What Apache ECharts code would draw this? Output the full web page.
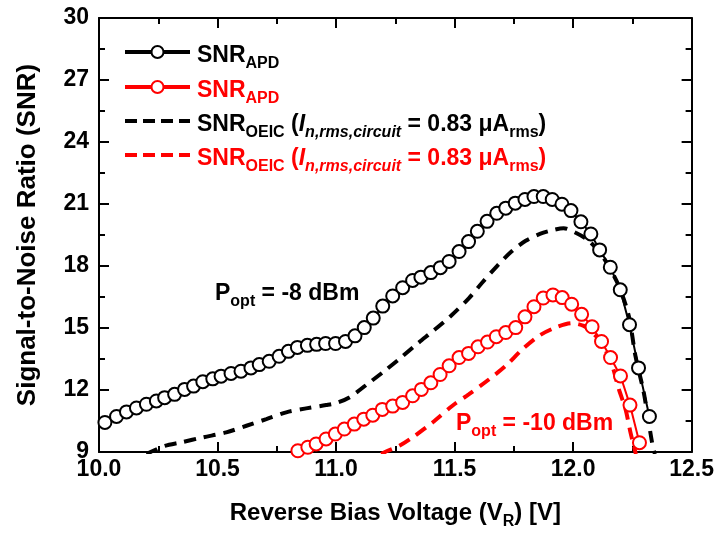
<!DOCTYPE html>
<html>
<head>
<meta charset="utf-8">
<script src="https://cdn.jsdelivr.net/npm/echarts@6/dist/echarts.min.js"></script>
<style>
html, body { margin: 0; padding: 0; background: #fff; }
#main { width: 717px; height: 535px; }
</style>
</head>
<body>
<div id="main"></div>
<script>
// SNR_APD, Popt = -8 dBm (black circles)
var apd8X = [10.025, 10.074, 10.116, 10.158, 10.200, 10.242, 10.277, 10.319, 10.361, 10.399, 10.438, 10.480, 10.515, 10.557, 10.599, 10.641, 10.676, 10.718, 10.760, 10.799, 10.837, 10.879, 10.918, 10.956, 10.998, 11.040, 11.080, 11.119, 11.157, 11.197, 11.239, 11.281, 11.323, 11.358, 11.400, 11.440, 11.477, 11.519, 11.559, 11.596, 11.637, 11.678, 11.716, 11.756, 11.797, 11.835, 11.874, 11.912, 11.953, 11.991, 12.033, 12.075, 12.112, 12.157, 12.199, 12.238, 12.276, 12.322];
var apd8Y = [10.43, 10.72, 10.94, 11.13, 11.31, 11.47, 11.63, 11.79, 12.03, 12.19, 12.40, 12.54, 12.67, 12.80, 12.91, 13.07, 13.23, 13.39, 13.63, 13.87, 14.06, 14.16, 14.21, 14.25, 14.25, 14.35, 14.62, 15.02, 15.48, 16.06, 16.55, 16.95, 17.30, 17.46, 17.68, 17.92, 18.22, 18.70, 19.18, 19.68, 20.16, 20.55, 20.80, 21.04, 21.22, 21.36, 21.36, 21.22, 20.99, 20.68, 20.14, 19.55, 18.78, 17.94, 16.85, 15.16, 13.07, 10.72];

// SNR_APD, Popt = -10 dBm (red circles)
var apd10X = [10.839, 10.881, 10.916, 10.958, 10.997, 11.035, 11.077, 11.117, 11.155, 11.195, 11.239, 11.281, 11.323, 11.360, 11.400, 11.439, 11.477, 11.519, 11.559, 11.599, 11.639, 11.676, 11.716, 11.758, 11.797, 11.835, 11.874, 11.915, 11.954, 11.994, 12.036, 12.080, 12.120, 12.158, 12.200, 12.240, 12.280];
var apd10Y = [9.06, 9.23, 9.39, 9.63, 9.87, 10.11, 10.35, 10.59, 10.78, 11.06, 11.22, 11.40, 11.72, 12.03, 12.35, 12.75, 13.17, 13.57, 13.77, 14.09, 14.32, 14.58, 14.78, 15.02, 15.54, 16.03, 16.45, 16.60, 16.47, 16.15, 15.66, 15.06, 14.35, 13.57, 12.68, 11.27, 9.45];

// SNR_OEIC, Popt = -8 dBm (black dashed)
var oeic8X = [10.20, 10.229, 10.278, 10.348, 10.439, 10.537, 10.622, 10.706, 10.790, 10.874, 10.958, 11.000, 11.056, 11.127, 11.200, 11.274, 11.344, 11.414, 11.484, 11.561, 11.617, 11.681, 11.740, 11.800, 11.860, 11.912, 11.960, 12.011, 12.059, 12.109, 12.151, 12.193, 12.235, 12.263, 12.298, 12.333, 12.345];
var oeic8Y = [8.9, 9.06, 9.30, 9.47, 9.71, 9.95, 10.27, 10.59, 10.92, 11.11, 11.27, 11.37, 11.64, 12.24, 12.88, 13.57, 14.25, 14.90, 15.58, 16.45, 17.20, 18.02, 18.70, 19.22, 19.55, 19.73, 19.83, 19.61, 19.28, 18.72, 17.97, 17.03, 15.58, 13.65, 11.88, 9.47, 8.9];

// SNR_OEIC, Popt = -10 dBm (red dashed)
var oeic10X = [11.19, 11.218, 11.267, 11.323, 11.407, 11.491, 11.561, 11.646, 11.716, 11.786, 11.856, 11.926, 11.996, 12.045, 12.080, 12.120, 12.165, 12.193, 12.221, 12.242, 12.256, 12.265];
var oeic10Y = [8.9, 9.06, 9.30, 9.71, 10.43, 11.24, 11.80, 12.52, 13.17, 13.97, 14.62, 15.02, 15.23, 15.10, 14.78, 14.30, 13.17, 12.04, 11.08, 9.95, 9.30, 8.9];

var FONT = "'Liberation Sans', Arial, sans-serif";

function pairs(xs, ys) {
    return xs.map(function (x, i) { return [x, ys[i]]; });
}

var myChart = echarts.init(document.getElementById('main'));

var tickStyle = { color: '#000', width: 2 };

function xAxisCfg(top) {
    return {
        type: 'value',
        position: top ? 'top' : 'bottom',
        min: 10, max: 12.5, interval: 0.5,
        axisLine: { show: true, onZero: false, lineStyle: tickStyle },
        axisTick: { show: true, inside: true, length: 10, lineStyle: tickStyle },
        minorTick: { show: true, splitNumber: 2, length: 6, lineStyle: tickStyle },
        splitLine: { show: false },
        axisLabel: {
            show: !top, color: '#000', fontSize: 23, fontWeight: 'bold', fontFamily: FONT, margin: 6,
            formatter: function (v) { return v.toFixed(1); }
        },
        name: top ? '' : '{a|Reverse Bias Voltage (V}{s|R}{a|) [V]}',
        nameLocation: 'middle',
        nameGap: 44,
        nameTextStyle: {
            color: '#000', fontWeight: 'bold', fontFamily: FONT,
            rich: {
                a: { fontSize: 24, fontWeight: 'bold', fontFamily: FONT, color: '#000', lineHeight: 34 },
                s: { fontSize: 16, fontWeight: 'bold', fontFamily: FONT, color: '#000', lineHeight: 16, verticalAlign: 'bottom' }
            }
        }
    };
}

function yAxisCfg(right) {
    return {
        type: 'value',
        position: right ? 'right' : 'left',
        min: 9, max: 30, interval: 3,
        axisLine: { show: true, onZero: false, lineStyle: tickStyle },
        axisTick: { show: true, inside: true, length: 10, lineStyle: tickStyle },
        minorTick: { show: true, splitNumber: 2, length: 6, lineStyle: tickStyle },
        splitLine: { show: false },
        axisLabel: { show: !right, color: '#000', fontSize: 23, fontWeight: 'bold', fontFamily: FONT, margin: 10 },
        name: right ? '' : 'Signal-to-Noise Ratio (SNR)',
        nameLocation: 'middle',
        nameGap: 58,
        nameTextStyle: { color: '#000', fontSize: 26, fontWeight: 'bold', fontFamily: FONT }
    };
}

// legend drawn by hand so the dashed samples look like the original
var legendRows = [
    { y: 52, color: '#000', dashed: false, text: '{a|SNR}{s|APD}' },
    { y: 87, color: '#ff0000', dashed: false, text: '{a|SNR}{s|APD}' },
    { y: 121, color: '#000', dashed: true, text: '{a|SNR}{s|OEIC}{a| (}{i|I}{si|n,rms,circuit}{a| = 0.83 μA}{s|rms}{a|)}' },
    { y: 155, color: '#ff0000', dashed: true, text: '{a|SNR}{s|OEIC}{a| (}{i|I}{si|n,rms,circuit}{a| = 0.83 μA}{s|rms}{a|)}' }
];

function richSet() {
    return {
        a: { fontSize: 23, fontWeight: 'bold', fontFamily: FONT, lineHeight: 32 },
        i: { fontSize: 23, fontWeight: 'bold', fontStyle: 'italic', fontFamily: FONT, lineHeight: 32 },
        s: { fontSize: 16, fontWeight: 'bold', fontFamily: FONT, lineHeight: 15, verticalAlign: 'bottom' },
        si: { fontSize: 16, fontWeight: 'bold', fontStyle: 'italic', fontFamily: FONT, lineHeight: 15, verticalAlign: 'bottom' }
    };
}

var graphics = [];
legendRows.forEach(function (r) {
    graphics.push({
        type: 'line', z: 10,
        shape: { x1: 125, y1: r.y, x2: 190, y2: r.y },
        style: { stroke: r.color, lineWidth: 4, lineDash: r.dashed ? [12, 6] : null }
    });
    if (!r.dashed) {
        graphics.push({
            type: 'circle', z: 11,
            shape: { cx: 157.5, cy: r.y, r: 6 },
            style: { fill: '#fff', stroke: r.color, lineWidth: 2 }
        });
    }
    graphics.push({
        type: 'text', z: 10, x: 197, y: r.y + 4,
        style: { text: r.text, fill: r.color, verticalAlign: 'middle', rich: richSet() }
    });
});
graphics.push({
    type: 'text', z: 10, x: 215, y: 294,
    style: { text: '{a|P}{s|opt}{a| = -8 dBm}', fill: '#000', verticalAlign: 'middle', rich: richSet() }
});
graphics.push({
    type: 'text', z: 10, x: 456, y: 424,
    style: { text: '{a|P}{s|opt}{a| = -10 dBm}', fill: '#ff0000', verticalAlign: 'middle', rich: richSet() }
});

var option = {
    animation: false,
    backgroundColor: '#fff',
    grid: { left: 99, right: 24, top: 18, bottom: 82, containLabel: false },
    xAxis: [xAxisCfg(false), xAxisCfg(true)],
    yAxis: [yAxisCfg(false), yAxisCfg(true)],
    graphic: graphics,
    series: [
        {
            name: 'SNR_APD -8dBm', type: 'line', data: pairs(apd8X, apd8Y),
            symbol: 'emptyCircle', symbolSize: 13, showAllSymbol: true,
            lineStyle: { color: '#000', width: 2 },
            itemStyle: { color: '#000', borderWidth: 2 }
        },
        {
            name: 'SNR_APD -10dBm', type: 'line', data: pairs(apd10X, apd10Y),
            symbol: 'emptyCircle', symbolSize: 13, showAllSymbol: true,
            lineStyle: { color: '#ff0000', width: 2 },
            itemStyle: { color: '#ff0000', borderWidth: 2 }
        },
        {
            name: 'SNR_OEIC -8dBm', type: 'line', data: pairs(oeic8X, oeic8Y),
            symbol: 'none', smooth: 0.3,
            lineStyle: { color: '#000', width: 4, type: [12, 8] }
        },
        {
            name: 'SNR_OEIC -10dBm', type: 'line', data: pairs(oeic10X, oeic10Y),
            symbol: 'none', smooth: 0.3,
            lineStyle: { color: '#ff0000', width: 4, type: [12, 8] }
        }
    ]
};
myChart.setOption(option);
</script>
</body>
</html>
